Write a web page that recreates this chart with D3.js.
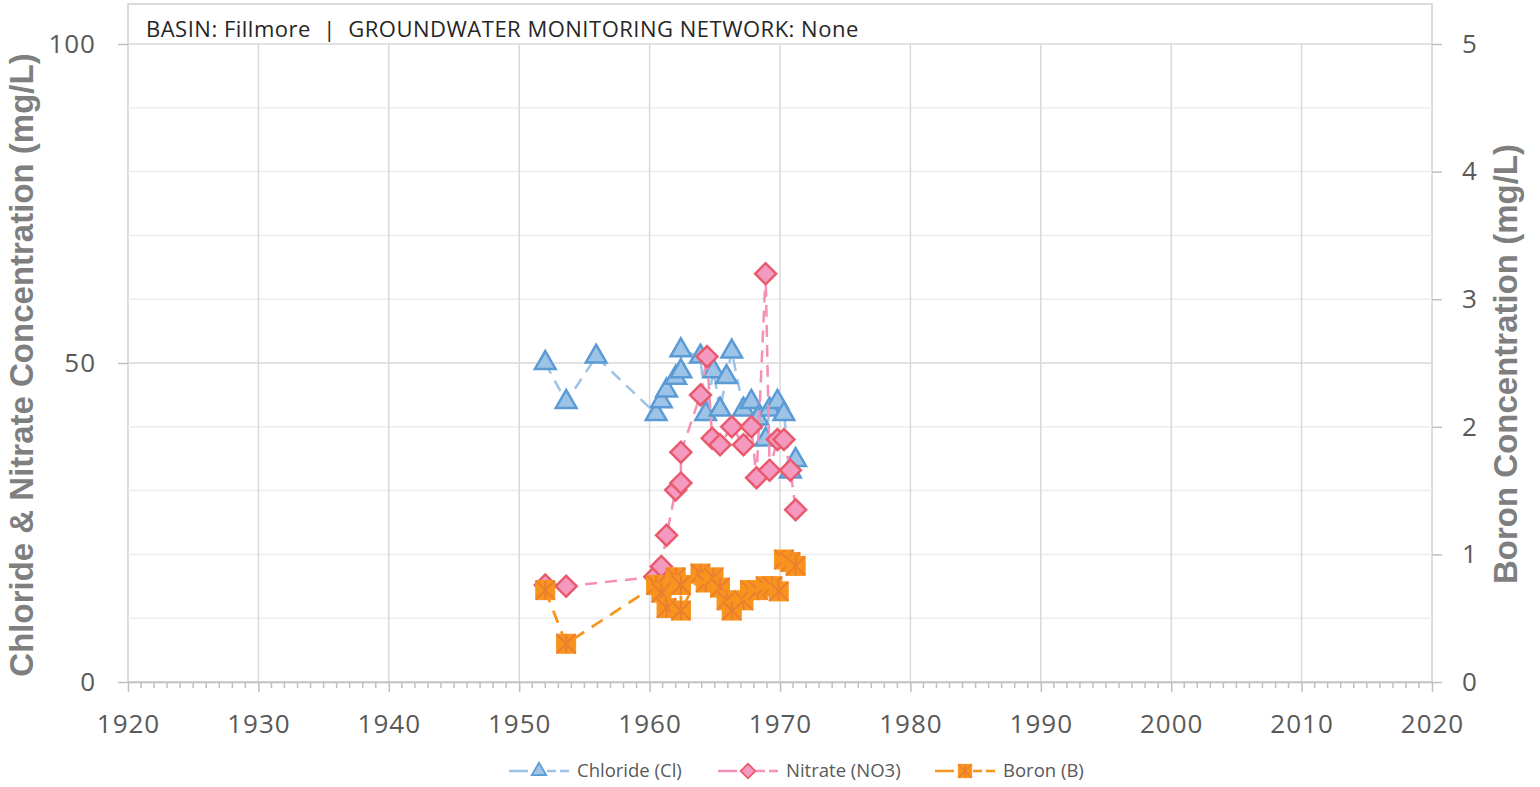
<!DOCTYPE html>
<html>
<head>
<meta charset="utf-8">
<script src="https://cdn.jsdelivr.net/npm/d3@7"></script>
<style>
  body { margin: 0; background: #fff; }
  svg { display: block; }
</style>
</head>
<body>
<div id="chart"></div>
<script>
// sample dates (decimal years) and concentrations
var chlorideDates = [1952.0, 1953.6, 1955.9, 1960.5, 1960.9, 1961.3, 1962.0, 1962.4, 1962.4, 1963.9, 1964.3, 1964.9, 1965.4, 1965.9, 1966.3, 1967.2, 1967.8, 1968.3, 1968.9, 1969.2, 1969.8, 1970.3, 1970.8, 1971.2]
var chlorideValues = [50.0, 43.9, 51.0, 42.0, 44.0, 45.7, 47.7, 48.7, 52.0, 51.0, 42.0, 48.7, 42.7, 47.8, 51.8, 42.7, 43.9, 41.3, 38.0, 42.7, 43.9, 42.0, 33.0, 34.8]

var nitrateDates = [1952.0, 1953.6, 1960.4, 1960.9, 1961.3, 1962.0, 1962.4, 1962.4, 1963.9, 1964.4, 1964.8, 1965.4, 1966.3, 1967.2, 1967.8, 1968.2, 1968.9, 1969.2, 1969.8, 1970.3, 1970.8, 1971.2]
var nitrateValues = [15.2, 15.0, 16.5, 18.1, 23.0, 30.1, 31.2, 36.0, 45.0, 51.0, 38.2, 37.2, 40.0, 37.2, 40.0, 32.0, 64.0, 33.2, 38.0, 38.0, 33.2, 27.0]

var boronDates = [1952.0, 1953.6, 1960.5, 1960.9, 1961.3, 1962.0, 1962.4, 1962.4, 1963.9, 1964.3, 1964.9, 1965.4, 1965.9, 1966.3, 1967.2, 1967.7, 1968.3, 1968.9, 1969.4, 1969.9, 1970.3, 1970.8, 1971.2]
var boronValues = [0.72, 0.30, 0.76, 0.70, 0.58, 0.82, 0.76, 0.56, 0.85, 0.78, 0.82, 0.74, 0.64, 0.56, 0.64, 0.72, 0.72, 0.75, 0.75, 0.71, 0.96, 0.94, 0.91]

var yearTicks = [1920, 1930, 1940, 1950, 1960, 1970, 1980, 1990, 2000, 2010, 2020]
var leftTicks = [0, 50, 100]
var rightTicks = [0, 1, 2, 3, 4, 5]

var chartTitle = 'BASIN: Fillmore  |  GROUNDWATER MONITORING NETWORK: None'
var legendLabels = ['Chloride (Cl)', 'Nitrate (NO3)', 'Boron (B)']

var W = 1540, H = 787
var plotLeft = 128, plotRight = 1432, plotTop = 44, plotBottom = 682
var gray = '#595959'

var svg = d3.select('#chart').append('svg').attr('width', W).attr('height', H)

var x = d3.scaleLinear().domain([1920, 2020]).range([plotLeft, plotRight])
var yL = d3.scaleLinear().domain([0, 100]).range([plotBottom, plotTop])
var yR = d3.scaleLinear().domain([0, 5]).range([plotBottom, plotTop])

// plot frame (the box also holds the title strip)
svg.append('rect').attr('x', plotLeft).attr('y', 4).attr('width', plotRight - plotLeft).attr('height', plotBottom - 4)
  .attr('fill', 'none').attr('stroke', '#d0d0d0').attr('stroke-width', 1.5)

// horizontal gridlines, minor every 10, major every 50
svg.append('g').selectAll('line').data(d3.range(10, 101, 10)).enter().append('line')
  .attr('x1', plotLeft).attr('x2', plotRight)
  .attr('y1', function(d) { return yL(d) }).attr('y2', function(d) { return yL(d) })
  .attr('stroke', function(d) { return d % 50 == 0 ? '#d9d9d9' : '#ececec' })
  .attr('stroke-width', 1.5)

// vertical gridlines every 10 years
svg.append('g').selectAll('line').data(yearTicks.slice(1, -1)).enter().append('line')
  .attr('x1', function(d) { return x(d) }).attr('x2', function(d) { return x(d) })
  .attr('y1', plotTop).attr('y2', plotBottom)
  .attr('stroke', '#d9d9d9').attr('stroke-width', 1.5)

// minor year ticks
svg.append('g').selectAll('line').data(d3.range(1920, 2021, 1).filter(function(d) { return d % 10 != 0 })).enter().append('line')
  .attr('x1', function(d) { return x(d) }).attr('x2', function(d) { return x(d) })
  .attr('y1', plotBottom).attr('y2', plotBottom + 6)
  .attr('stroke', '#bfbfbf').attr('stroke-width', 1.5)

function styleAxis(g) {
  g.select('.domain').attr('stroke', '#bfbfbf').attr('stroke-width', 1.5)
  g.selectAll('.tick line').attr('stroke', '#bfbfbf').attr('stroke-width', 1.5)
  g.selectAll('.tick text').attr('fill', gray)
    .style('font-family', '"Open Sans", sans-serif').style('font-size', '26px').style('letter-spacing', '1px')
}

var xAxis = svg.append('g').attr('transform', 'translate(0,' + plotBottom + ')')
  .call(d3.axisBottom(x).tickValues(yearTicks).tickFormat(d3.format('d')).tickSize(10).tickPadding(23).tickSizeOuter(0))
styleAxis(xAxis)

var yAxisL = svg.append('g').attr('transform', 'translate(' + plotLeft + ',0)')
  .call(d3.axisLeft(yL).tickValues(leftTicks).tickFormat(d3.format('d')).tickSize(10).tickPadding(22).tickSizeOuter(0))
styleAxis(yAxisL)
yAxisL.select('.domain').remove()

var yAxisR = svg.append('g').attr('transform', 'translate(' + plotRight + ',0)')
  .call(d3.axisRight(yR).tickValues(rightTicks).tickFormat(d3.format('d')).tickSize(10).tickPadding(20).tickSizeOuter(0))
styleAxis(yAxisR)
yAxisR.select('.domain').remove()

// title strip
svg.append('text').attr('x', 146).attr('y', 37).text(chartTitle)
  .style('font-family', '"Open Sans", sans-serif').style('font-size', '22px').style('letter-spacing', '0.5px')
  .attr('fill', '#262626').style('white-space', 'pre')

// axis titles
svg.append('text').attr('transform', 'translate(33,365) rotate(-90)').attr('text-anchor', 'middle')
  .text('Chloride & Nitrate Concentration (mg/L)')
  .style('font-family', '"Liberation Sans", Arial, sans-serif').style('font-weight', 'bold').style('font-size', '33px')
  .attr('fill', '#7f7f7f')
svg.append('text').attr('transform', 'translate(1517,364) rotate(-90)').attr('text-anchor', 'middle')
  .text('Boron Concentration (mg/L)')
  .style('font-family', '"Liberation Sans", Arial, sans-serif').style('font-weight', 'bold').style('font-size', '33px')
  .attr('fill', '#7f7f7f')

var series = [
  { label: legendLabels[0], dates: chlorideDates, values: chlorideValues, y: yL, line: '#9dc3e6', dash: '12,8', width: 2.5,
    fill: '#9dc3e6', stroke: '#5b9bd5', shape: 'triangle' },
  { label: legendLabels[1], dates: nitrateDates, values: nitrateValues, y: yL, line: '#f590b8', dash: '12,8', width: 2.5,
    fill: '#f49ac1', stroke: '#e95a6c', shape: 'diamond' },
  { label: legendLabels[2], dates: boronDates, values: boronValues, y: yR, line: '#f7941d', dash: '13,9', width: 2.75,
    fill: '#f7941d', stroke: '#ed7d31', shape: 'square' }
]

function drawMarker(g, s, scale) {
  scale = scale || 1
  if (s.shape == 'triangle') {
    g.append('path').attr('d', d3.symbol(d3.symbolTriangle, 185 * scale * scale)())
      .attr('fill', s.fill).attr('stroke', s.stroke).attr('stroke-width', 2.5 * scale)
  } else if (s.shape == 'diamond') {
    g.append('path').attr('d', d3.symbol(d3.symbolSquare, 220 * scale * scale)()).attr('transform', 'rotate(45)')
      .attr('fill', s.fill).attr('stroke', s.stroke).attr('stroke-width', 2.5 * scale)
  } else {
    var h = 9.5 * scale
    g.append('rect').attr('x', -h).attr('y', -h).attr('width', 2 * h).attr('height', 2 * h)
      .attr('fill', s.fill).attr('stroke', s.fill).attr('stroke-width', 1)
    g.append('path').attr('d', 'M' + -h + ',' + -h + 'L' + h + ',' + h + 'M' + h + ',' + -h + 'L' + -h + ',' + h + 'M0,' + -h + 'L0,' + h)
      .attr('stroke', s.stroke).attr('stroke-width', 2 * scale).attr('fill', 'none')
  }
}

series.forEach(function(s) {
  var pts = s.dates.map(function(d, i) { return [d, s.values[i]] })
  var line = d3.line().x(function(p) { return x(p[0]) }).y(function(p) { return s.y(p[1]) })
  svg.append('path').datum(pts).attr('d', line)
    .attr('fill', 'none').attr('stroke', s.line).attr('stroke-width', s.width).attr('stroke-dasharray', s.dash)
  svg.append('g').selectAll('g').data(pts).enter().append('g')
    .attr('transform', function(p) { return 'translate(' + x(p[0]) + ',' + s.y(p[1]) + ')' })
    .each(function() { drawMarker(d3.select(this), s) })
})

// legend
var legendX = [539, 748, 965]
var legendY = 771
series.forEach(function(s, i) {
  var g = svg.append('g').attr('transform', 'translate(' + legendX[i] + ',' + legendY + ')')
  g.append('line').attr('x1', -30).attr('x2', -11).attr('stroke', s.line).attr('stroke-width', 2.5)
  g.append('line').attr('x1', 8).attr('x2', 32).attr('stroke', s.line).attr('stroke-width', 2.5).attr('stroke-dasharray', '9,4')
  drawMarker(g, s, 0.7)
  g.append('text').attr('x', 38).attr('y', 6).text(s.label)
    .style('font-family', '"Open Sans", sans-serif').style('font-size', '18.5px').attr('fill', gray)
})
</script>
</body>
</html>
